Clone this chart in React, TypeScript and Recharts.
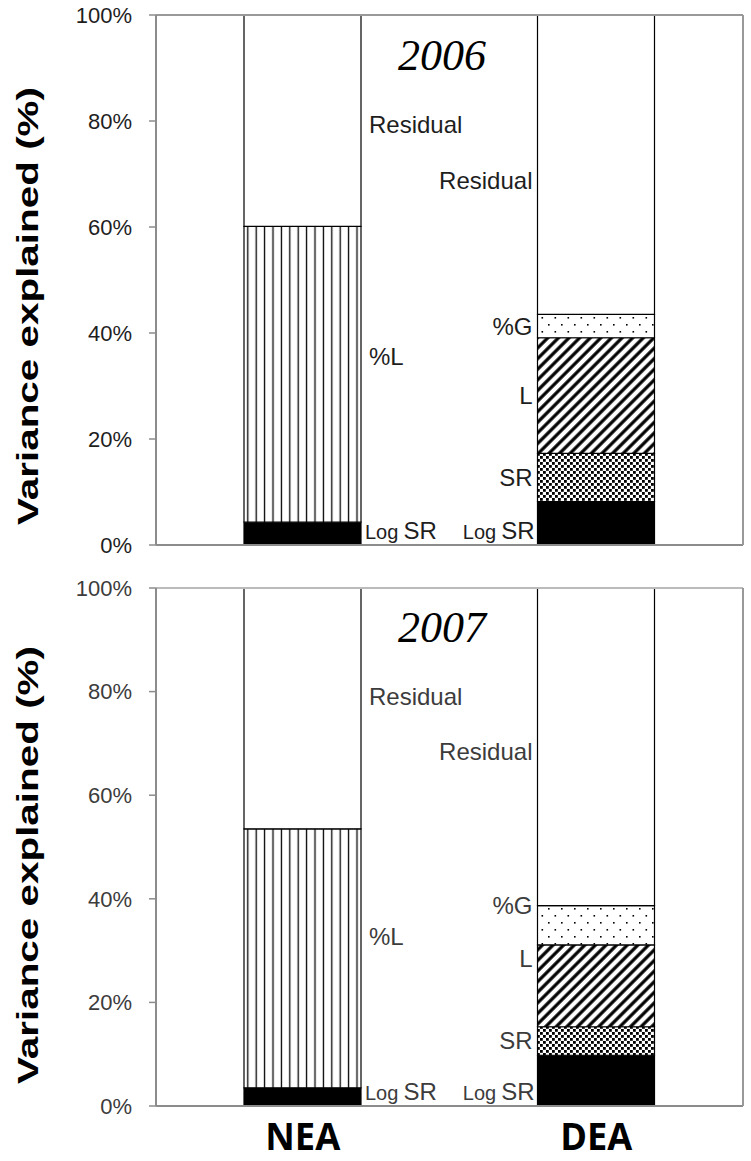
import React from 'react';
import { BarChart, Bar, XAxis, YAxis, LabelList, ReferenceLine } from 'recharts';

// categories and y ticks
const categories = ['NEA', 'DEA'];
const yTicks = [0, 20, 40, 60, 80, 100];

// 2006 components of explained variance (%), per category
const logSR2006 = [4.3, 8.2];
const pctL2006 = [55.8, 0];
const sr2006 = [0, 9.1];
const l2006 = [0, 21.8];
const pctG2006 = [0, 4.4];
const residual2006 = [39.9, 56.5];

// 2007
const logSR2007 = [3.5, 9.8];
const pctL2007 = [50.0, 0];
const sr2007 = [0, 5.5];
const l2007 = [0, 15.8];
const pctG2007 = [0, 7.6];
const residual2007 = [46.5, 61.3];

const seriesKeys = ['logSR', 'pctL', 'sr', 'l', 'pctG', 'residual'];
const seriesLabels = ['Log SR', '%L', 'SR', 'L', '%G', 'Residual'];

const buildRows = (cols: number[][]) =>
  categories.map((cat, i) => {
    const row: Record<string, any> = { cat };
    seriesKeys.forEach((k, j) => (row[k] = cols[j][i]));
    return row;
  });

const rows2006 = buildRows([logSR2006, pctL2006, sr2006, l2006, pctG2006, residual2006]);
const rows2007 = buildRows([logSR2007, pctL2007, sr2007, l2007, pctG2007, residual2007]);

const SANS = '"Liberation Sans", Arial, Helvetica, sans-serif';
const AXIS = '#8c8c8c';

// small vertical shifts so the annotations sit where the original has them
const nudges: Record<string, number> = {
  '2006-NEA-residual': 4,
  '2006-DEA-residual': 16,
  '2006-NEA-pctL': -18,
  '2007-NEA-residual': -12,
  '2007-DEA-residual': 5,
  '2007-NEA-pctL': -22,
  '2007-DEA-pctG': -20,
  '2007-DEA-l': -27,
};

const fillFor = (key: string, id: string) => {
  switch (key) {
    case 'logSR':
      return '#000';
    case 'pctL':
      return `url(#vl-${id})`;
    case 'sr':
      return `url(#dots-${id})`;
    case 'l':
      return `url(#diag-${id})`;
    case 'pctG':
      return `url(#sparse-${id})`;
    default:
      return '#fff';
  }
};

const makeLabel = (year: string, key: string, text: string, color: string) => (props: any) => {
  const vb = props.viewBox && props.viewBox.width !== undefined ? props.viewBox : props;
  const x = Number(vb.x);
  const y = Number(vb.y);
  const w = Number(vb.width);
  const h = Number(vb.height);
  if (!props.value) return null;
  const top = Math.min(y, y + h);
  const bottom = Math.max(y, y + h);
  // left bar (NEA) is annotated on its right, right bar (DEA) on its left
  const right = x + w / 2 < 450;
  const cat = right ? 'NEA' : 'DEA';
  const anchor = right ? 'start' : 'end';
  if (key === 'logSR') {
    const tx = right ? x + w + 4 : x - 3;
    return (
      <text x={tx} y={bottom - 6} textAnchor={anchor} fill={color} fontFamily={SANS}>
        <tspan fontSize={20}>Log</tspan>
        <tspan fontSize={24} dx={5}>SR</tspan>
      </text>
    );
  }
  const tx = right ? x + w + 8 : x - 5;
  const ty = (top + bottom) / 2 + (nudges[`${year}-${cat}-${key}`] ?? 0);
  return (
    <text x={tx} y={ty} textAnchor={anchor} dominantBaseline="central" fill={color} fontFamily={SANS} fontSize={24}>
      {text}
    </text>
  );
};

function Patterns({ id }: { id: string }) {
  return (
    <defs>
      <pattern id={`vl-${id}`} patternUnits="userSpaceOnUse" width={8.4} height={10}>
        <rect width={8.4} height={10} fill="#fff" />
        <line x1={4.2} y1={0} x2={4.2} y2={10} stroke="#000" strokeWidth={1.3} />
      </pattern>
      <pattern id={`diag-${id}`} patternUnits="userSpaceOnUse" width={7.5} height={7.5} patternTransform="rotate(45)">
        <rect width={7.5} height={7.5} fill="#fff" />
        <line x1={3.75} y1={0} x2={3.75} y2={7.5} stroke="#000" strokeWidth={3.2} />
      </pattern>
      <pattern id={`dots-${id}`} patternUnits="userSpaceOnUse" width={6} height={6}>
        <rect width={6} height={6} fill="#fff" />
        <rect x={0} y={0} width={2.8} height={2.8} fill="#000" />
        <rect x={3} y={3} width={2.8} height={2.8} fill="#000" />
      </pattern>
      <pattern id={`sparse-${id}`} patternUnits="userSpaceOnUse" width={13} height={14}>
        <rect width={13} height={14} fill="#fff" />
        <rect x={2} y={2} width={1.6} height={1.6} fill="#000" />
        <rect x={8.5} y={9} width={1.6} height={1.6} fill="#000" />
      </pattern>
    </defs>
  );
}

interface YearChartProps {
  year: string;
  rows: Record<string, any>[];
  height: number;
  top: number;
  xAxisHeight: number;
  bottomMargin: number;
  showCategories: boolean;
  textColor: string;
  titleCenterY: number;
  yearBaseline: number;
  frameTop: string;
}

function YearChart(p: YearChartProps) {
  return (
    <BarChart
      width={751}
      height={p.height}
      data={p.rows}
      margin={{ top: p.top, right: 7, bottom: p.bottomMargin, left: 0 }}
      barSize={117}
    >
      <Patterns id={p.year} />
      <XAxis
        dataKey="cat"
        axisLine={{ stroke: AXIS, strokeWidth: 2 }}
        tickLine={false}
        tickSize={0}
        tickMargin={0}
        height={p.xAxisHeight}
        interval={0}
        tick={
          p.showCategories
            ? (t: any) => (
                <text
                  x={t.x}
                  y={Number(t.y) + 44}
                  textAnchor="middle"
                  fontFamily='"Open Sans", "Liberation Sans", sans-serif'
                  fontWeight={700}
                  fontSize={38}
                  textLength={t.payload.value === 'NEA' ? 75 : 72}
                  lengthAdjust="spacingAndGlyphs"
                  fill="#000"
                >
                  {t.payload.value}
                </text>
              )
            : false
        }
      />
      <YAxis
        yAxisId="left"
        domain={[0, 100]}
        ticks={yTicks}
        interval={0}
        tickFormatter={(v: number) => `${v}%`}
        width={156}
        tickSize={7}
        tickMargin={17}
        axisLine={{ stroke: AXIS, strokeWidth: 2 }}
        tickLine={{ stroke: AXIS, strokeWidth: 1.5 }}
        tick={{ fill: p.textColor, fontSize: 22, fontFamily: SANS }}
        label={() => (
          <text
            x={27}
            y={p.titleCenterY}
            transform={`rotate(-90 27 ${p.titleCenterY})`}
            textAnchor="middle"
            dominantBaseline="central"
            fontFamily={SANS}
            fontWeight={700}
            fontSize={30}
            textLength={438}
            lengthAdjust="spacingAndGlyphs"
            fill="#000"
          >
            Variance explained (%)
          </text>
        )}
      />
      <YAxis
        yAxisId="right"
        orientation="right"
        domain={[0, 100]}
        width={1}
        tick={false}
        tickLine={false}
        axisLine={{ stroke: '#999', strokeWidth: 2 }}
        label={() => (
          <text
            x={442}
            y={p.yearBaseline}
            textAnchor="middle"
            fontFamily='"Liberation Serif", "Times New Roman", serif'
            fontStyle="italic"
            fontSize={44}
            fill="#000"
          >
            {p.year}
          </text>
        )}
      />
      <ReferenceLine yAxisId="left" y={100} stroke={p.frameTop} strokeWidth={2} />
      {seriesKeys.map((k, j) => (
        <Bar
          key={k}
          yAxisId="left"
          dataKey={k}
          stackId="v"
          fill={fillFor(k, p.year)}
          stroke="#000"
          strokeWidth={1.2}
          isAnimationActive={false}
        >
          <LabelList dataKey={k} content={makeLabel(p.year, k, seriesLabels[j], p.textColor)} />
        </Bar>
      ))}
    </BarChart>
  );
}

export default function App() {
  return (
    <div style={{ position: 'absolute', left: 0, top: 0, width: 751, height: 1161, background: '#fff' }}>
      <div style={{ position: 'absolute', left: 0, top: 0 }}>
        <YearChart
          year="2006"
          rows={rows2006}
          height={560}
          top={15}
          xAxisHeight={1}
          bottomMargin={14}
          showCategories={false}
          textColor="#1e1e1e"
          titleCenterY={306}
          yearBaseline={70}
          frameTop="#999"
        />
      </div>
      <div style={{ position: 'absolute', left: 0, top: 570 }}>
        <YearChart
          year="2007"
          rows={rows2007}
          height={591}
          top={18}
          xAxisHeight={55}
          bottomMargin={0}
          showCategories={true}
          textColor="#3c3c3c"
          titleCenterY={295}
          yearBaseline={72}
          frameTop="#bbb"
        />
      </div>
    </div>
  );
}
